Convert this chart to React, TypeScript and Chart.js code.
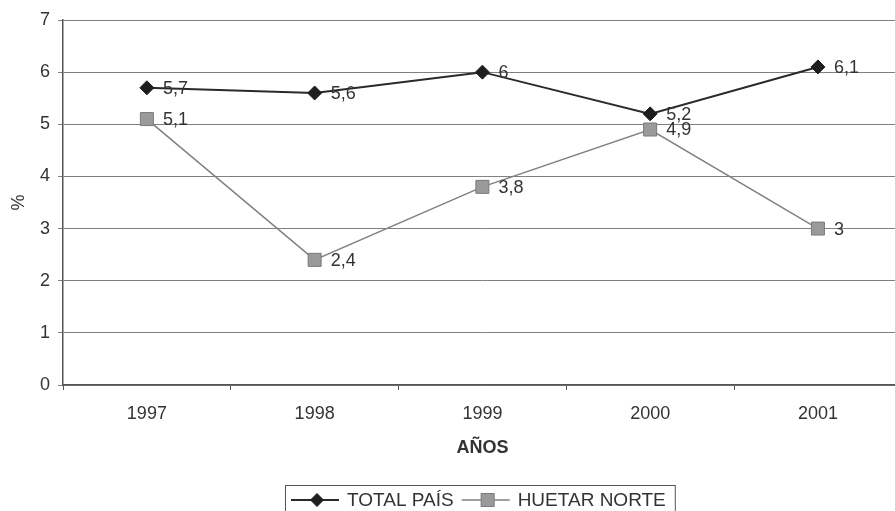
import { useEffect, useRef } from "react";
import { Chart, registerables } from "chart.js";

Chart.register(...registerables);

const years = ["1997", "1998", "1999", "2000", "2001"];
const totalPais = [5.7, 5.6, 6, 5.2, 6.1];
const huetarNorte = [5.1, 2.4, 3.8, 4.9, 3];
const seriesNames = ["TOTAL PAÍS", "HUETAR NORTE"];
const yMin = 0;
const yMax = 7;
const yStep = 1;
const xTitle = "AÑOS";
const yTitle = "%";

const FONT = '"Liberation Sans", Arial, sans-serif';

const fmt = (v: number) => String(v).replace(".", ",");

const labelsPlugin = {
  id: "valueLabels",
  afterDatasetsDraw(chart: any) {
    const ctx = chart.ctx;
    ctx.save();
    ctx.font = `18px ${FONT}`;
    ctx.fillStyle = "#333";
    ctx.textAlign = "left";
    ctx.textBaseline = "middle";
    chart.data.datasets.forEach((ds: any, i: number) => {
      const meta = chart.getDatasetMeta(i);
      meta.data.forEach((pt: any, j: number) => {
        ctx.fillText(fmt(ds.data[j]), pt.x + 16, pt.y + 1);
      });
    });
    ctx.restore();
  },
};

const legendPlugin = {
  id: "boxLegend",
  afterDraw(chart: any) {
    const ctx = chart.ctx;
    ctx.save();
    ctx.font = `19px ${FONT}`;
    const lineLen = 48;
    const gap = 8;
    const between = 8;
    const padL = 6;
    const padR = 9;
    const top = 485;
    const cy = 500;
    let x = 285;
    const widths = seriesNames.map((n) => ctx.measureText(n).width);
    const total = padL + padR + widths.reduce((a, w) => a + lineLen + gap + w, 0) + between * (seriesNames.length - 1);
    ctx.strokeStyle = "#555";
    ctx.lineWidth = 1;
    ctx.strokeRect(x + 0.5, top + 0.5, total, 60);
    x += padL;
    chart.data.datasets.forEach((ds: any, i: number) => {
      ctx.strokeStyle = ds.borderColor;
      ctx.lineWidth = ds.borderWidth;
      ctx.beginPath();
      ctx.moveTo(x, cy);
      ctx.lineTo(x + lineLen, cy);
      ctx.stroke();
      const mx = x + lineLen / 2 + 2;
      ctx.fillStyle = ds.pointBackgroundColor;
      ctx.strokeStyle = ds.pointBorderColor;
      ctx.lineWidth = 1;
      if (i === 0) {
        const r = 6.5;
        ctx.beginPath();
        ctx.moveTo(mx, cy - r);
        ctx.lineTo(mx + r, cy);
        ctx.lineTo(mx, cy + r);
        ctx.lineTo(mx - r, cy);
        ctx.closePath();
        ctx.fill();
        ctx.stroke();
      } else {
        ctx.fillRect(mx - 6.5, cy - 6.5, 13, 13);
        ctx.strokeRect(mx - 6.5, cy - 6.5, 13, 13);
      }
      ctx.fillStyle = "#333";
      ctx.textAlign = "left";
      ctx.textBaseline = "middle";
      ctx.fillText(seriesNames[i], x + lineLen + gap, cy + 1);
      x += lineLen + gap + widths[i] + between;
    });
    ctx.restore();
  },
};

export default function App() {
  const ref = useRef<HTMLCanvasElement | null>(null);

  useEffect(() => {
    document.body.style.overflow = "hidden";
    const canvas = ref.current!;
    const chart = new Chart(canvas, {
      type: "line",
      data: {
        labels: years,
        datasets: [
          {
            label: seriesNames[0],
            data: totalPais,
            borderColor: "#2a2a2a",
            borderWidth: 2,
            pointStyle: "rectRot",
            pointRadius: 7,
            pointBackgroundColor: "#1e1e1e",
            pointBorderColor: "#1e1e1e",
            pointBorderWidth: 1,
            tension: 0,
            fill: false,
          },
          {
            label: seriesNames[1],
            data: huetarNorte,
            borderColor: "#808080",
            borderWidth: 1.5,
            pointStyle: "rect",
            pointRadius: 9.2,
            pointBackgroundColor: "#9a9a9a",
            pointBorderColor: "#7a7a7a",
            pointBorderWidth: 1,
            tension: 0,
            fill: false,
          },
        ],
      },
      options: {
        responsive: false,
        animation: false,
        layout: { padding: { top: 20, right: 9, bottom: 51, left: 0 } },
        plugins: {
          legend: { display: false },
          tooltip: { enabled: false },
        },
        scales: {
          x: {
            type: "category",
            offset: true,
            grid: {
              offset: true,
              drawOnChartArea: false,
              drawTicks: true,
              tickLength: 5,
              color: "#555",
            },
            border: { color: "#555", width: 1.5 },
            ticks: {
              color: "#333",
              font: { family: FONT, size: 18 },
              padding: 13,
              maxRotation: 0,
            },
            title: {
              display: true,
              text: xTitle,
              color: "#333",
              font: { family: FONT, size: 18, weight: "bold" },
              padding: { top: 0, bottom: 1 },
            },
            afterFit: (scale: any) => {
              scale.height = 75;
            },
          },
          y: {
            min: yMin,
            max: yMax,
            ticks: {
              stepSize: yStep,
              color: "#333",
              font: { family: FONT, size: 18 },
              padding: 8,
            },
            grid: {
              color: "#808080",
              lineWidth: 1,
              drawTicks: true,
              tickLength: 5,
            },
            border: { color: "#555", width: 1.5 },
            title: {
              display: true,
              text: yTitle,
              color: "#333",
              font: { family: FONT, size: 18 },
              padding: { top: 8, bottom: 0 },
            },
            afterFit: (scale: any) => {
              scale.width = 63;
            },
          },
        },
      },
      plugins: [labelsPlugin, legendPlugin],
    });
    return () => chart.destroy();
  }, []);

  return (
    <div style={{ position: "fixed", left: 0, top: 0, width: 912, height: 511 }}>
      <canvas ref={ref} width={912} height={511} style={{ display: "block" }} />
    </div>
  );
}
